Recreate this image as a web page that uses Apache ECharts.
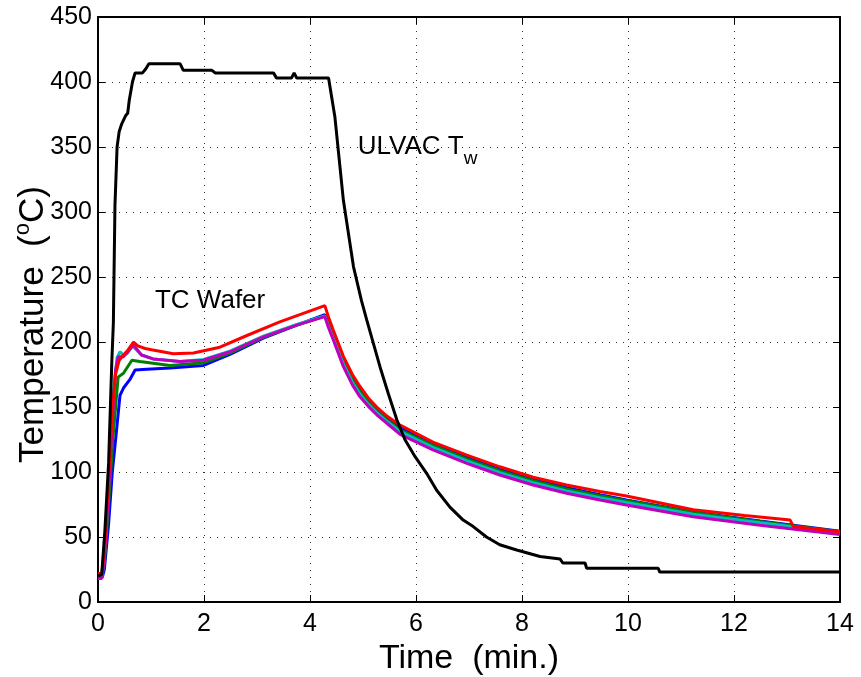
<!DOCTYPE html>
<html>
<head>
<meta charset="utf-8">
<script src="https://cdn.jsdelivr.net/npm/echarts@6/dist/echarts.min.js"></script>
<style>
  html, body { margin: 0; padding: 0; background: #fff; }
  #chart { width: 861px; height: 677px; }
</style>
</head>
<body>
<div id="chart"></div>
<script>
// ULVAC heater temperature T_w  [time (min), temperature (C)]
const ulvacTw = [
  [0, 20], [0.07, 21], [0.13, 55], [0.20, 107], [0.26, 184], [0.29, 215], [0.32, 305],
  [0.36, 350], [0.40, 362], [0.45, 368], [0.52, 374], [0.56, 376], [0.59, 386], [0.65, 400],
  [0.70, 407], [0.84, 407], [0.90, 410], [0.96, 414], [1.55, 414], [1.61, 409], [2.15, 409],
  [2.21, 407], [3.31, 407], [3.37, 403], [3.65, 403], [3.70, 407], [3.75, 403], [4.35, 403],
  [4.47, 373], [4.63, 309], [4.82, 258], [4.97, 232], [5.07, 217], [5.32, 181], [5.48, 160],
  [5.64, 140], [5.79, 125], [5.98, 112], [6.20, 99], [6.39, 86], [6.64, 73], [6.89, 63],
  [7.08, 58], [7.33, 50], [7.58, 44], [7.90, 40], [8.34, 35], [8.72, 33], [8.77, 30],
  [9.19, 30], [9.22, 26], [10.57, 26], [10.60, 23], [14, 23]
];

// TC wafer thermocouples
const tcBlue = [
  [0, 19], [0.08, 19], [0.12, 25], [0.20, 60], [0.27, 100], [0.35, 132], [0.415, 159],
  [0.48, 164.6], [0.60, 171], [0.70, 178.5], [0.92, 179], [1.36, 180], [1.99, 182],
  [2.49, 190.5], [3.12, 203], [3.75, 213], [4.28, 221], [4.35, 214], [4.44, 206],
  [4.63, 186.5], [4.80, 173], [4.94, 164], [5.10, 155.5], [5.26, 148.5], [5.45, 141.5],
  [5.70, 134], [6.32, 121.5], [6.96, 111], [7.58, 102], [8.21, 94.3], [8.84, 88],
  [9.47, 82.5], [9.97, 78.5], [11.23, 69.2], [12.49, 62.3], [14, 54.5]
];
const tcGreen = [
  [0, 19], [0.07, 19], [0.12, 30], [0.20, 75], [0.28, 125], [0.38, 173], [0.48, 176],
  [0.64, 186], [0.79, 185], [1.36, 182], [1.99, 184], [2.49, 191.5], [3.12, 203.5],
  [3.75, 213], [4.28, 220], [4.35, 213], [4.44, 204.5], [4.63, 185], [4.80, 171],
  [4.94, 162], [5.10, 154], [5.26, 147], [5.45, 140], [5.70, 132.5], [6.32, 120.5],
  [6.96, 110], [7.58, 101], [8.21, 93.3], [8.84, 87], [9.47, 81.8], [9.97, 78],
  [11.23, 68.8], [12.49, 62], [14, 54]
];
const tcCyan = [
  [0, 19], [0.07, 19], [0.12, 35], [0.20, 90], [0.30, 165], [0.36, 188], [0.415, 192.5],
  [0.48, 190], [0.55, 191], [0.65, 197], [0.82, 190], [1.04, 187], [1.55, 185],
  [1.99, 186.5], [2.49, 193], [3.12, 204.5], [3.75, 213.5], [4.28, 220], [4.35, 212],
  [4.44, 203], [4.63, 183], [4.80, 169], [4.94, 160], [5.10, 152], [5.26, 145.5],
  [5.45, 139], [5.70, 131], [6.32, 119], [6.96, 108.5], [7.58, 99.5], [8.21, 91.8],
  [8.84, 85.4], [9.47, 80.3], [9.97, 76.5], [11.23, 67.5], [12.49, 61], [14, 53.5]
];
const tcMagenta = [
  [0, 18], [0.07, 18], [0.12, 33], [0.20, 85], [0.28, 145], [0.33, 178], [0.38, 188.7],
  [0.48, 188.7], [0.67, 197.7], [0.82, 190], [1.04, 187], [1.55, 185], [1.99, 186],
  [2.49, 192.5], [3.12, 204], [3.75, 213], [4.28, 219.5], [4.35, 211], [4.44, 201.5],
  [4.63, 181], [4.80, 167], [4.94, 158], [5.10, 150.5], [5.26, 144], [5.45, 137.5],
  [5.70, 129], [6.32, 117], [6.96, 106.7], [7.58, 97.7], [8.21, 90], [8.84, 83.6],
  [9.47, 78.5], [9.97, 74.6], [11.23, 65.6], [12.49, 59], [14, 52]
];
const tcRed = [
  [0, 22], [0.07, 22], [0.12, 38], [0.20, 95], [0.28, 152], [0.33, 175], [0.40, 186],
  [0.48, 190], [0.55, 193], [0.67, 200], [0.75, 197], [0.89, 195], [1.01, 194],
  [1.42, 191], [1.80, 191.5], [2.30, 196], [2.81, 205], [3.43, 215.5], [4.28, 228],
  [4.35, 219], [4.44, 209], [4.63, 189], [4.80, 175], [4.94, 166], [5.10, 157],
  [5.26, 150], [5.45, 143], [5.70, 136], [6.32, 123], [6.96, 113], [7.58, 104],
  [8.21, 96], [8.84, 90], [9.47, 85], [9.97, 81.5], [11.23, 71], [12.2, 66.5],
  [13.06, 63], [13.12, 58], [14, 54]
];

const font = 'Liberation Sans, Arial, Helvetica, sans-serif';

const chart = echarts.init(document.getElementById('chart'));

const lineSeries = (data, color, extra) => Object.assign({
  type: 'line',
  data: data,
  showSymbol: false,
  symbol: 'none',
  animation: false,
  lineStyle: { color: color, width: 3 },
  itemStyle: { color: color }
}, extra || {});

// inward ticks + box like MATLAB
const boxAxis = (extra) => Object.assign({
  min: 0,
  axisLine: { show: true, onZero: false, lineStyle: { color: '#000', width: 2 } },
  axisTick: { show: true, inside: true, length: 7, lineStyle: { color: '#000', width: 1 } },
  axisLabel: { show: false },
  splitLine: { show: false }
}, extra);

const option = {
  animation: false,
  backgroundColor: '#fff',
  grid: { left: 98, right: 21, top: 17, bottom: 75, outerBoundsMode: 'none' },
  xAxis: [
    boxAxis({
      type: 'value', max: 14, interval: 2, position: 'bottom',
      axisLabel: { show: true, fontSize: 25, color: '#000', fontFamily: font, margin: 10 },
      splitLine: { show: true, lineStyle: { type: [1, 6], color: '#333', width: 1 } },
      name: 'Time  (min.)',
      nameLocation: 'middle',
      nameGap: 40,
      nameMoveOverlap: false,
      nameTextStyle: { fontSize: 34, color: '#000', fontFamily: font }
    }),
    boxAxis({ type: 'value', max: 14, interval: 2, position: 'top' })
  ],
  yAxis: [
    boxAxis({
      type: 'value', max: 450, interval: 50, position: 'left',
      axisLabel: { show: true, fontSize: 25, color: '#000', fontFamily: font, margin: 6 },
      splitLine: { show: true, lineStyle: { type: [1, 6], color: '#333', width: 1 } },
      name: '{t|Temperature  (}{s|o}{t|C)}',
      nameLocation: 'middle',
      nameGap: 44,
      nameMoveOverlap: false,
      nameTextStyle: {
        padding: [0, 30, 0, 0],
        rich: {
          t: { fontSize: 35, color: '#000', fontFamily: font, lineHeight: 42 },
          s: { fontSize: 22, color: '#000', fontFamily: font, lineHeight: 42, verticalAlign: 'top' }
        }
      }
    }),
    boxAxis({ type: 'value', max: 450, interval: 50, position: 'right' })
  ],
  series: [
    lineSeries(tcBlue, '#0000ff'),
    lineSeries(tcGreen, '#008000'),
    lineSeries(tcCyan, '#00bfbf'),
    lineSeries(tcMagenta, '#bf00bf'),
    lineSeries(tcRed, '#ff0000', {
      markPoint: {
        symbol: 'circle', symbolSize: 0,
        data: [{
          coord: [1.075, 232],
          label: {
            show: true, position: 'right', distance: 0,
            formatter: 'TC Wafer',
            fontSize: 26, color: '#000', fontFamily: font
          }
        }]
      }
    }),
    lineSeries(ulvacTw, '#000000', {
      markPoint: {
        symbol: 'circle', symbolSize: 0,
        data: [{
          coord: [4.9, 350],
          label: {
            show: true, position: 'right', distance: 0,
            formatter: '{m|ULVAC T}{w|w}',
            rich: {
              m: { fontSize: 26, color: '#000', fontFamily: font, lineHeight: 42 },
              w: { fontSize: 19, color: '#000', fontFamily: font, lineHeight: 42, verticalAlign: 'bottom' }
            }
          }
        }]
      }
    })
  ]
};

chart.setOption(option);
</script>
</body>
</html>
